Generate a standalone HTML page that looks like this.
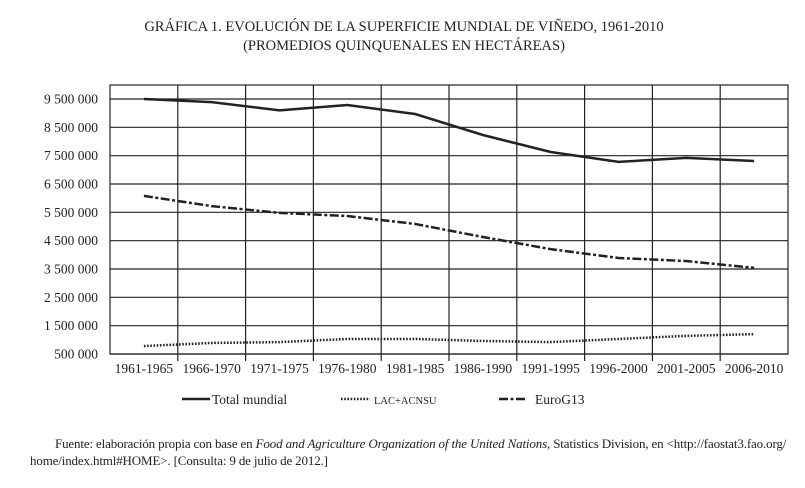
<!DOCTYPE html>
<html><head><meta charset="utf-8">
<style>
body{margin:0;background:#fff;width:805px;height:488px;overflow:hidden;font-family:"Liberation Serif",serif;color:#222}
.note{position:absolute;left:30px;top:435px;width:775px;font-size:13px;line-height:17px;text-indent:25px;letter-spacing:-0.15px;white-space:nowrap}
</style></head><body>
<svg width="805" height="488" style="position:absolute;left:0;top:0">
<text x="404" y="31" text-anchor="middle" font-size="14.5" fill="#222">GRÁFICA 1. EVOLUCIÓN DE LA SUPERFICIE MUNDIAL DE VIÑEDO, 1961-2010</text>
<text x="404" y="50" text-anchor="middle" font-size="14.5" fill="#222">(PROMEDIOS QUINQUENALES EN HECTÁREAS)</text>
<g id="grid"></g><g id="series"></g>
<g font-size="13.5" fill="#222">
<line x1="182" y1="399" x2="210" y2="399" stroke="#222" stroke-width="2.5"/>
<text x="212" y="404">Total mundial</text>
<line x1="341" y1="399" x2="370" y2="399" stroke="#222" stroke-width="2.5" stroke-dasharray="1.6,1.6"/>
<text x="374" y="404" font-size="10.5">LAC+ACNSU</text>
<line x1="499" y1="399" x2="527" y2="399" stroke="#222" stroke-width="2.5" stroke-dasharray="9,2.5,3,2.5"/>
<text x="535" y="404">EuroG13</text>
</g>
</svg>
<div class="note">Fuente: elaboración propia con base en <i>Food and Agriculture Organization of the United Nations</i>, Statistics Division, en &lt;http://faostat3.fao.org/<br>home/index.html#HOME&gt;. [Consulta: 9 de julio de 2012.]</div>
<script>
const categories=["1961-1965","1966-1970","1971-1975","1976-1980","1981-1985","1986-1990","1991-1995","1996-2000","2001-2005","2006-2010"];
const totalMundial=[9500000,9390000,9100000,9290000,8970000,8230000,7630000,7280000,7420000,7310000];
const lacAcnsu=[780000,890000,920000,1030000,1030000,960000,920000,1030000,1140000,1200000];
const euroG13=[6080000,5720000,5480000,5370000,5090000,4630000,4200000,3890000,3780000,3540000];
const yTicks=[500000,1500000,2500000,3500000,4500000,5500000,6500000,7500000,8500000,9500000];
const L=110,R=788,T=85,B=354;
const bw=(R-L)/categories.length;
function xs(i){return L+bw*(i+0.5);}
function ys(v){return B-(v-500000)/9000000*(B-99);}
const NS="http://www.w3.org/2000/svg";
function mk(tag,attrs,parent){const e=document.createElementNS(NS,tag);for(const k in attrs)e.setAttribute(k,attrs[k]);parent.appendChild(e);return e;}
const g=document.getElementById('grid');
mk('rect',{x:L,y:T,width:R-L,height:B-T,fill:'none',stroke:'#222','stroke-width':1.2},g);
yTicks.forEach(v=>{
 const y=ys(v);
 const ln=mk('line',{x1:L,x2:R,y1:y,y2:y,stroke:'#222','stroke-width':1.2},g);
 
 
 const t=mk('text',{x:98,y:y+4.5,'text-anchor':'end','font-size':13.5,fill:'#222'},g);
 t.textContent=String(v).replace(/\B(?=(\d{3})+(?!\d))/g,' ');
 
 
});
categories.forEach((c,i)=>{
 if(i>0){const x=L+bw*i;
  const ln=mk('line',{x1:x,x2:x,y1:T,y2:B+7,stroke:'#222','stroke-width':1.2},g);
  
  }
 const t=mk('text',{x:xs(i),y:373,'text-anchor':'middle','font-size':13.5,fill:'#222'},g);
 t.textContent=c;
 
 
});
const s=document.getElementById('series');
function line(vals,dash,name){
 const p=mk('polyline',{points:vals.map((v,i)=>xs(i)+','+ys(v)).join(' '),fill:'none',stroke:'#222','stroke-width':2.5,'stroke-dasharray':dash},s);
 
 
}
line(totalMundial,'none','total-mundial-line');
line(lacAcnsu,'1.6,1.6','lac-acnsu-line');
line(euroG13,'9,2.5,3,2.5','euro-g13-line');
</script>
</body></html>
